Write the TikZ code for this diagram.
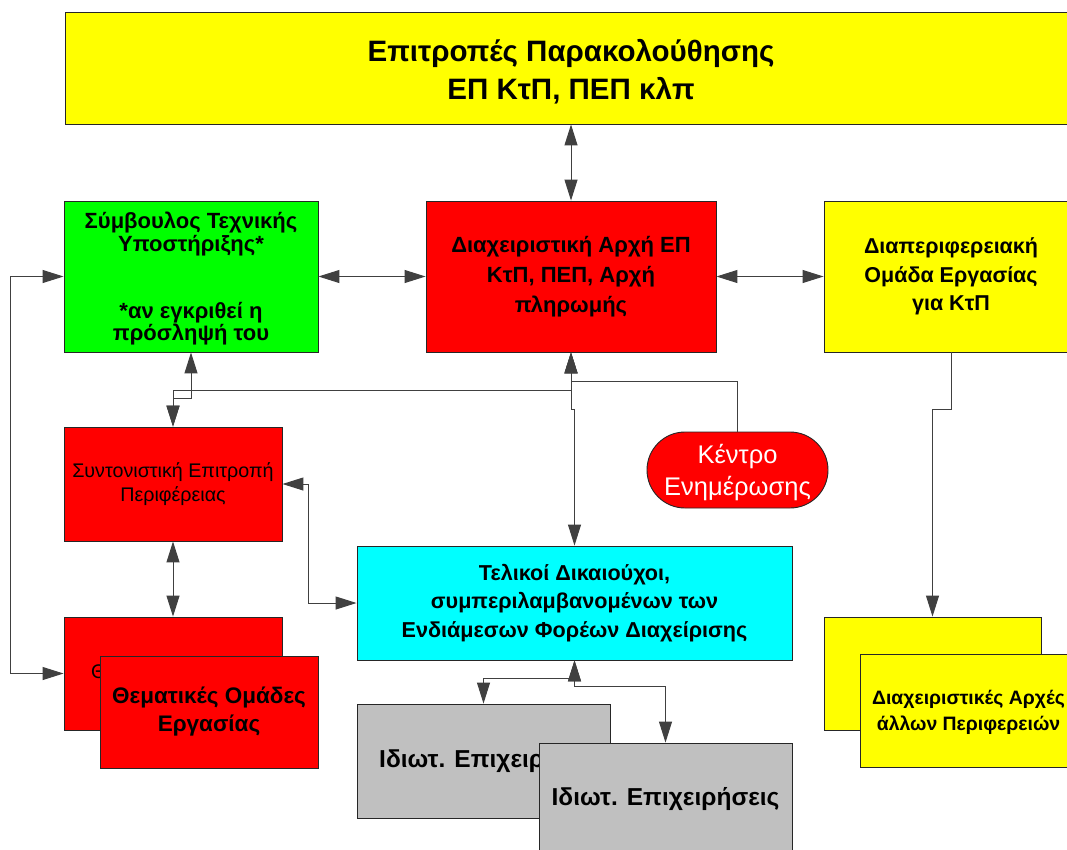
\documentclass[tikz,border=0pt]{standalone}
\usepackage{fontspec}
\setmainfont{Liberation Sans}
\usetikzlibrary{arrows.meta}
\definecolor{cyel}{HTML}{FFFF00}
\definecolor{cgrn}{HTML}{00FF00}
\definecolor{cred}{HTML}{FF0000}
\definecolor{ccyn}{HTML}{00FFFF}
\definecolor{cgry}{HTML}{C0C0C0}
\definecolor{cline}{HTML}{404040}
\tikzset{
  boxbase/.style={draw=black!85, line width=0.9pt, rectangle, align=center, inner sep=2pt},
  conn/.style={draw=cline, line width=1pt},
  bi/.style={conn,{Triangle[length=21pt,width=13pt]}-{Triangle[length=21pt,width=13pt]}},
  uni/.style={conn,-{Triangle[length=21pt,width=13pt]}},
}
\begin{document}
\begin{tikzpicture}[x=1pt,y=-1pt]
\useasboundingbox (0,0) rectangle (1067,849);
\clip (0,0) rectangle (1067,849);
\fill[white] (0,0) rectangle (1067,849);

% nodes
\node[boxbase, fill=cyel, minimum width=1012pt, minimum height=112pt] (top) at (571,68) {};
\node[align=center, inner sep=0pt, font=\bfseries\fontsize{29.5}{38}\selectfont] (topt) at (571,72)
  {Επιτροπές Παρακολούθησης\\ΕΠ ΚτΠ, ΠΕΠ κλπ};

\node[boxbase, fill=cgrn, minimum width=254pt, minimum height=151pt] (sym) at (191,276.5) {};
\node[align=center, inner sep=0pt, font=\bfseries\fontsize{22}{22.5}\selectfont] (symt) at (191,279)
  {Σύμβουλος Τεχνικής\\Υποστήριξης*\\[44.5pt]*αν εγκριθεί η\\πρόσληψή του};

\node[boxbase, fill=cred, minimum width=290pt, minimum height=151pt,
  font=\bfseries\fontsize{22}{30}\selectfont] (da) at (571,276.5)
  {Διαχειριστική Αρχή ΕΠ\\ΚτΠ, ΠΕΠ, Αρχή\\πληρωμής};

\node[boxbase, fill=cyel, minimum width=254pt, minimum height=151pt,
  font=\bfseries\fontsize{21.5}{28.5}\selectfont] (ypo) at (951,276.5)
  {Διαπεριφερειακή\\Ομάδα Εργασίας\\για ΚτΠ};

\node[boxbase, fill=cred, minimum width=181pt, minimum height=76pt, rounded corners=38pt] (ken) at (737.5,470) {};
\node[align=center, inner sep=0pt, text=white, font=\fontsize{25.5}{32}\selectfont] (kent) at (737.5,473)
  {Κέντρο\\Ενημέρωσης};

\node[boxbase, fill=cred, minimum width=218pt, minimum height=114pt,
  font=\fontsize{19.7}{24}\selectfont] (synt) at (173,484)
  {Συντονιστική Επιτροπή\\Περιφέρειας};

\node[boxbase, fill=cred, minimum width=218pt, minimum height=113pt] (thb) at (173,673.5) {};
\begin{scope}
  \clip (thb.north west) rectangle (thb.south east);
  \node[anchor=west, inner sep=0pt, font=\fontsize{19.7}{24}\selectfont] (thbt) at (91,673.5)
    {Θεματικές Ομάδες Εργασίας};
\end{scope}
\node[boxbase, fill=cred, minimum width=218pt, minimum height=112pt,
  font=\bfseries\fontsize{22.5}{28}\selectfont] (thf) at (209,712)
  {Θεματικές Ομάδες\\Εργασίας};

\node[boxbase, fill=ccyn, minimum width=435pt, minimum height=114pt,
  font=\bfseries\fontsize{21.6}{28.5}\selectfont] (cyan) at (574.5,603)
  {Τελικοί Δικαιούχοι,\\συμπεριλαμβανομένων των\\Ενδιάμεσων Φορέων Διαχείρισης};

\node[boxbase, fill=cgry, minimum width=253pt, minimum height=114pt] (g1) at (483.5,761) {};
\node[anchor=west, inner sep=0pt, font=\bfseries\fontsize{24.5}{28}\selectfont] (g1t) at (379,761)
  {Ιδιωτ. Επιχειρήσεις};
\node[boxbase, fill=cgry, minimum width=253pt, minimum height=114pt] (g2) at (665.5,800) {};
\node[inner sep=0pt, font=\bfseries\fontsize{24.5}{28}\selectfont] (g2t) at (665.5,799)
  {Ιδιωτ. Επιχειρήσεις};

\node[boxbase, fill=cyel, minimum width=217pt, minimum height=113pt] (ybb) at (932.5,673.5) {};
\node[boxbase, fill=cyel, minimum width=217pt, minimum height=113pt] (ybf) at (968.5,710.5) {};
\node[align=center, inner sep=0pt, font=\bfseries\fontsize{19.4}{26}\selectfont] (ybft) at (968.5,712.5)
  {Διαχειριστικές Αρχές\\άλλων Περιφερειών};

% connectors
\draw[bi] (top.south) -- (da.north);
\draw[bi] (sym.east) -- (da.west);
\draw[bi] (da.east) -- (ypo.west);
\draw[bi] (sym.west) -- ++(-53,0) |- (thb.west);
\draw[bi] (sym.south) -- ++(0,46) -| (synt.north);
\draw[bi] (da.south) -- ++(0,38) -| (synt.north);
\draw[uni] (ken.north) -- ++(0,-50) -| (da.south);
\draw[bi] (da.south) -- ++(0,57) -| (cyan.north);
\draw[bi] (synt.east) -- ++(26,0) |- (cyan.west);
\draw[bi] (synt.south) -- (thb.north);
\draw[bi] (cyan.south) -- ++(0,18) -| (g1.north);
\draw[bi] (cyan.south) -- ++(0,26) -| (g2.north);
\draw[uni] (ypo.south) -- ++(0,57) -| (ybb.north);
\end{tikzpicture}
\end{document}
